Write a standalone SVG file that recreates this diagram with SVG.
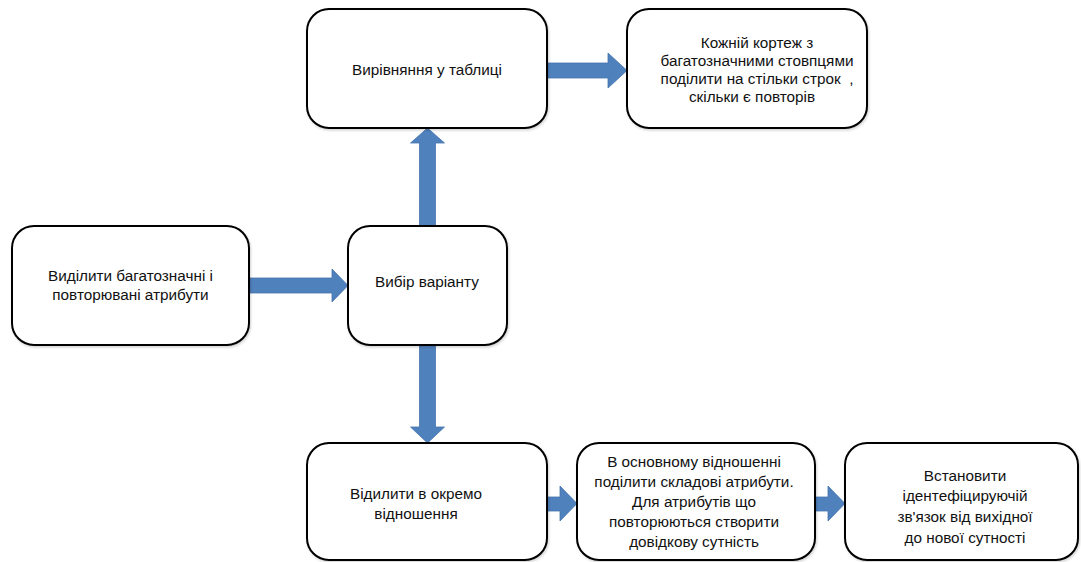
<svg xmlns="http://www.w3.org/2000/svg" width="1081" height="562" viewBox="0 0 1081 562">
<style>
  .box { fill: #ffffff; stroke: #000000; stroke-width: 2; filter: url(#sh); }
  .lbl { font-family: "Liberation Sans", Arial, sans-serif; font-size: 15.3px; fill: #111111; text-anchor: middle; }
  .arr { fill: #4F81BD; stroke: #4675AD; stroke-width: 0.8; }
</style>
<defs>
  <filter id="sh" x="-5%" y="-5%" width="110%" height="115%">
    <feDropShadow dx="1" dy="1.5" stdDeviation="1.2" flood-color="#000" flood-opacity="0.18"/>
  </filter>
</defs>
<rect width="1081" height="562" fill="#ffffff"/>

<g id="connectors">
  <polygon class="arr" points="249,278 332,278 332,269 348,285.5 332,302 332,293 249,293"/>
  <polygon class="arr" points="419.5,226 419.5,143 410.5,143 427.5,128 444.5,143 435.5,143 435.5,226"/>
  <polygon class="arr" points="547,63 608,63 608,53 627,70.5 608,88 608,78 547,78"/>
  <polygon class="arr" points="419.5,345 419.5,427 410.5,427 427.5,443 444.5,427 435.5,427 435.5,345"/>
  <polygon class="arr" points="547,497 560,497 560,486 577,503.5 560,521 560,511 547,511"/>
  <polygon class="arr" points="815,497 828,497 828,486 845,503.5 828,521 828,511 815,511"/>
</g>

<g id="node-vyrivniannia">
  <rect class="box" x="307" y="9" width="240" height="119" rx="22"/>
  <text class="lbl" x="427" y="75">Вирівняння у таблиці</text>
</g>

<g id="node-kozhnii">
  <rect class="box" x="627" y="9" width="240" height="119" rx="22"/>
  <text class="lbl" x="757" y="47.5">Кожній кортеж з</text>
  <text class="lbl" x="757" y="66">багатозначними стовпцями</text>
  <text class="lbl" x="757" y="84" xml:space="preserve">поділити на стільки строк  ,</text>
  <text class="lbl" x="752" y="102">скільки є повторів</text>
</g>

<g id="node-vydilyty">
  <rect class="box" x="12" y="226" width="237" height="119" rx="22"/>
  <text class="lbl" x="130.5" y="281">Виділити багатозначні і</text>
  <text class="lbl" x="130.5" y="300">повторювані атрибути</text>
</g>

<g id="node-vybir">
  <rect class="box" x="348" y="226" width="159" height="119" rx="22"/>
  <text class="lbl" x="427" y="287">Вибір варіанту</text>
</g>

<g id="node-okremo">
  <rect class="box" x="307" y="443" width="240" height="117" rx="22"/>
  <text class="lbl" x="416" y="499">Відилити в окремо</text>
  <text class="lbl" x="416" y="519">відношення</text>
</g>

<g id="node-osnovnomu">
  <rect class="box" x="577" y="443" width="238" height="117" rx="22"/>
  <text class="lbl" x="694" y="467">В основному відношенні</text>
  <text class="lbl" x="694" y="487">поділити складові атрибути.</text>
  <text class="lbl" x="694" y="507">Для атрибутів що</text>
  <text class="lbl" x="694" y="527">повторюються створити</text>
  <text class="lbl" x="694" y="547">довідкову сутність</text>
</g>

<g id="node-vstanovyty">
  <rect class="box" x="845" y="443" width="233" height="117" rx="22"/>
  <text class="lbl" x="965" y="481">Встановити</text>
  <text class="lbl" x="965" y="501">ідентефіцируючій</text>
  <text class="lbl" x="965" y="522">зв'язок від вихідної</text>
  <text class="lbl" x="965" y="543">до нової сутності</text>
</g>
</svg>
